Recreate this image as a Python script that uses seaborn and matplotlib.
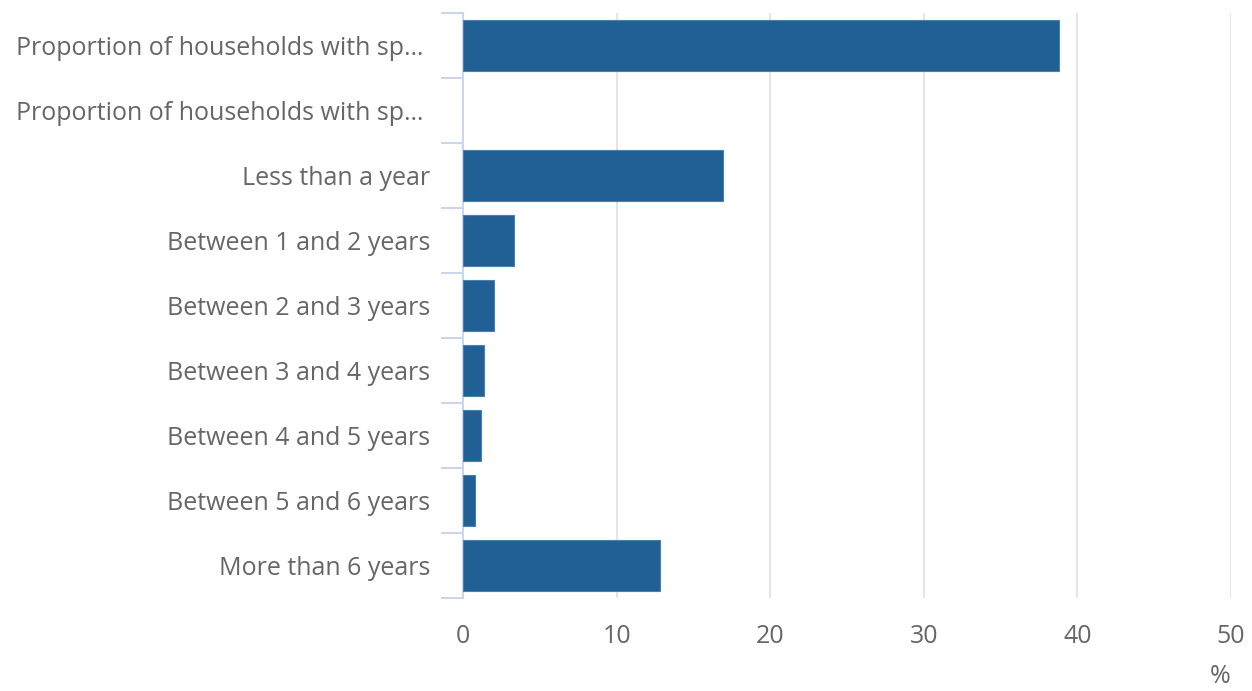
import numpy as np
import pandas as pd
import matplotlib
matplotlib.use("Agg")
import matplotlib.pyplot as plt
import seaborn as sns

categories = [
    "Proportion of households with sp… ",
    "Proportion of households with sp… ",
    "Less than a year",
    "Between 1 and 2 years",
    "Between 2 and 3 years",
    "Between 3 and 4 years",
    "Between 4 and 5 years",
    "Between 5 and 6 years",
    "More than 6 years",
]
values = [38.8, np.nan, 16.9, 3.3, 2.0, 1.4, 1.2, 0.8, 12.8]
x_ticks = [0, 10, 20, 30, 40, 50]

sns.set_theme(style="white")
plt.rcParams["font.family"] = ["Open Sans", "DejaVu Sans"]

text_col = "#666666"
axis_col = "#ccd6eb"

# unique row ids so the two identical labels get separate rows
df = pd.DataFrame({"row": [str(i) for i in range(len(categories))], "value": values})

fig = plt.figure(figsize=(12.52, 6.91), dpi=100)
ax = fig.add_axes([0.3698, 0.1346, 0.6134, 0.8466])

sns.barplot(data=df, x="value", y="row", orient="h", color="#206095",
            saturation=1, width=0.77, edgecolor="#4a7fb0", linewidth=0.8, ax=ax, zorder=3)

ax.set_xlim(0, 50)
ax.set_ylim(len(categories) - 0.5, -0.5)
ax.set_xticks(x_ticks)
ax.set_xticklabels([str(t) for t in x_ticks])
ax.set_yticks(range(len(categories)))
ax.set_yticklabels(categories)
ax.set_yticks(np.arange(-0.5, len(categories), 1), minor=True)

ax.tick_params(axis="y", which="major", length=0, pad=23.5, labelsize=18, labelcolor=text_col)
ax.tick_params(axis="y", which="minor", length=16, width=1.5, color=axis_col, left=True)
ax.tick_params(axis="x", which="major", length=0, pad=19, labelsize=18, labelcolor=text_col)

ax.grid(False)
for t in x_ticks[1:]:
    ax.axvline(t, color="#e6e6e6", linewidth=1.5, zorder=0)

for side in ["top", "right", "bottom"]:
    ax.spines[side].set_visible(False)
ax.spines["left"].set_color(axis_col)
ax.spines["left"].set_linewidth(1.5)

ax.set_xlabel("")
ax.set_ylabel("")
fig.text(0.9832, 0.012, "%", ha="right", va="baseline", fontsize=18, color=text_col)

fig.savefig("out.png", dpi=100)
